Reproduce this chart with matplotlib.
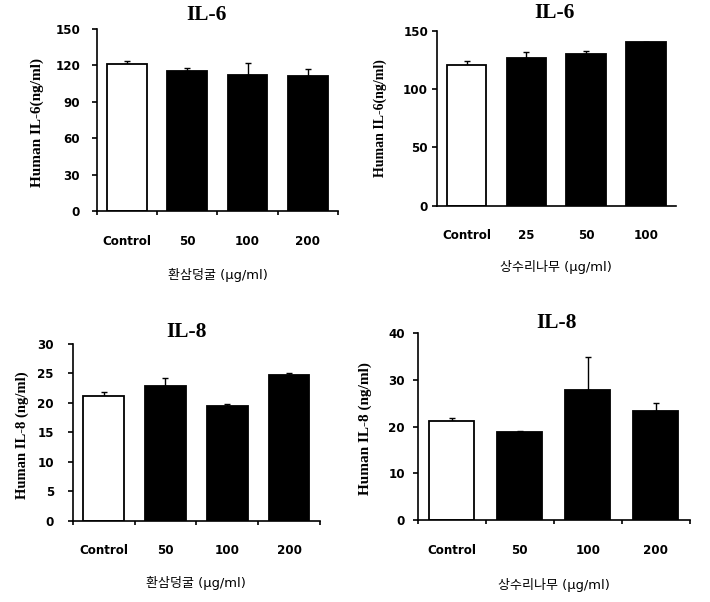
import numpy as np
import matplotlib
matplotlib.use('Agg')
import matplotlib.pyplot as plt

# data
cats_a = ['Control', '50', '100', '200']
cats_b = ['Control', '25', '50', '100']

il6_a = [121, 115, 112, 111]
il6_a_err = [3, 3, 10, 6]
il6_b = [121, 126.5, 130, 140.5]
il6_b_err = [3, 5, 3, 0]

il8_a = [21.2, 22.9, 19.5, 24.7]
il8_a_err = [0.6, 1.4, 0.4, 0.4]
il8_b = [21.2, 18.9, 27.8, 23.4]
il8_b_err = [0.6, 0.2, 7.2, 1.7]

xlab_a = '환삼덩굴 (μg/ml)'
xlab_b = '상수리나무 (μg/ml)'

serif = 'Liberation Serif'
sans = ['DejaVu Sans', 'Noto Sans CJK KR']

fig = plt.figure(figsize=(7.1, 6.02), dpi=100)


def panel(rect, cats, vals, err, ymax, ystep, title, ylabel, xlabel,
          boundary_ticks, ypad, ylab_pos, ylab_size, title_pos):
    ax = fig.add_axes(rect)
    x = np.arange(len(cats)) + 0.5
    colors = ['white'] + ['black'] * (len(cats) - 1)
    ax.bar(x, vals, width=0.66, color=colors, edgecolor='black', linewidth=1.3, zorder=2)
    ax.errorbar(x, vals, yerr=[np.zeros(len(vals)), err], fmt='none',
                ecolor='black', elinewidth=1, capsize=2.5, capthick=1, zorder=1)
    ax.set_xlim(0, len(cats))
    ax.set_ylim(0, ymax)
    ax.set_yticks(np.arange(0, ymax + 0.01, ystep))
    ax.set_xticks(x)
    ax.set_xticklabels(cats)
    if boundary_ticks:
        ax.set_xticks(np.arange(len(cats) + 1), minor=True)
        ax.tick_params(axis='x', which='minor', length=3, width=1.2, direction='out')
    ax.tick_params(axis='x', which='major', length=0, pad=17)
    ax.tick_params(axis='y', length=3.6, width=1.2, pad=ypad)
    for lab in ax.get_xticklabels() + ax.get_yticklabels():
        lab.set_family(sans)
        lab.set_fontweight('bold')
        lab.set_fontsize(8.6)
    for s in ['top', 'right']:
        ax.spines[s].set_visible(False)
    for s in ['left', 'bottom']:
        ax.spines[s].set_linewidth(1.2)
    ax.text(title_pos[0], title_pos[1], title, transform=ax.transAxes, ha='center', va='center',
            fontfamily=serif, fontweight='bold', fontsize=15.5)
    ax.text(ylab_pos[0], ylab_pos[1], ylabel, transform=ax.transAxes, ha='center', va='center',
            rotation=90, fontfamily=serif, fontweight='bold', fontsize=ylab_size)
    ax.text(0.5, -0.35, xlabel, transform=ax.transAxes, ha='center', va='center',
            fontfamily=sans, fontsize=9.4)
    return ax


panel([0.1366, 0.6495, 0.3394, 0.3023], cats_a, il6_a, il6_a_err, 150, 30, 'IL-6',
      'Human IL-6(ng/ml)', xlab_a, True, 8.5, (-0.246, 0.489), 11, (0.455, 1.077))
panel([0.615, 0.6583, 0.337, 0.2907], cats_b, il6_b, il6_b_err, 150, 50, 'IL-6',
      'Human IL-6(ng/ml)', xlab_b, False, 2.5, (-0.237, 0.5), 10, (0.494, 1.099))
panel([0.1024, 0.135, 0.3483, 0.2935], cats_a, il8_a, il8_a_err, 30, 5, 'IL-8',
      'Human IL-8 (ng/ml)', xlab_a, True, 10, (-0.206, 0.485), 10.5, (0.461, 1.07))
panel([0.5883, 0.1362, 0.3835, 0.31], cats_a, il8_b, il8_b_err, 40, 10, 'IL-8',
      'Human IL-8 (ng/ml)', xlab_b, True, 5.5, (-0.194, 0.491), 11, (0.51, 1.054))

fig.savefig('out.png', dpi=100)
